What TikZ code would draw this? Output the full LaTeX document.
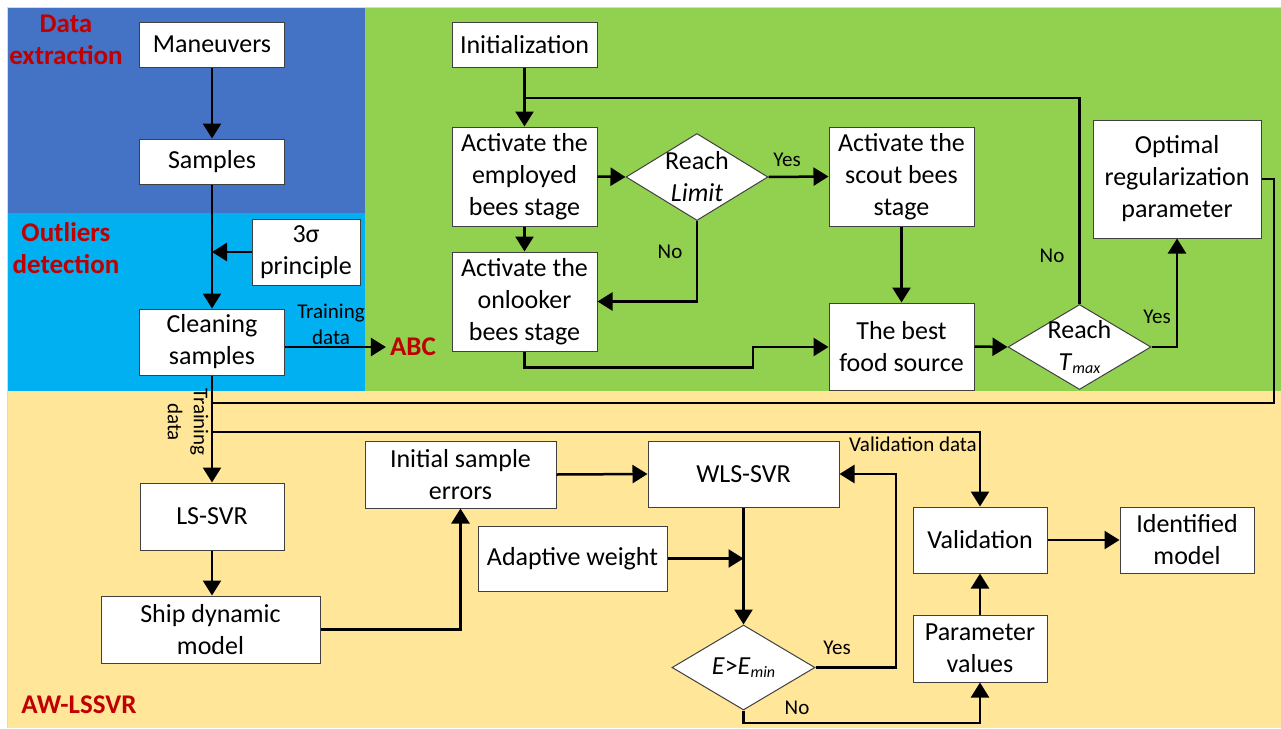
\documentclass[tikz,border=0pt]{standalone}
\usepackage{fontspec}
\setmainfont{Carlito}
\usetikzlibrary{shapes.geometric,arrows.meta,calc}
\definecolor{cblue}{HTML}{4472C4}
\definecolor{clblue}{HTML}{00B0F0}
\definecolor{cgreen}{HTML}{92D050}
\definecolor{cyellow}{HTML}{FFE699}
\definecolor{cred}{HTML}{C00000}
\begin{document}
\begin{tikzpicture}[x=1pt,y=-1pt,
  box/.style={draw=black!75, line width=1pt, fill=white, inner sep=0pt, align=center, font=\fontsize{26}{32}\selectfont},
  dia/.style={diamond, draw=black!75, line width=1pt, fill=white, inner sep=0pt},
  dtext/.style={align=center, font=\fontsize{26}{32}\selectfont},
  ttl/.style={align=center, text=cred, font=\bfseries\fontsize{27}{32}\selectfont},
  lbl/.style={font=\fontsize{21}{26}\selectfont, inner sep=1pt},
  ln/.style={line width=2.5pt},
  arr/.style={line width=2.5pt, -{Triangle[length=15pt,width=18pt]}}
]
\useasboundingbox (0,0) rectangle (1281,728);
\fill[white] (0,0) rectangle (1281,728);
% regions
\fill[cyellow] (7,391) rectangle (1281,728);
\fill[cblue] (7,7) rectangle (365,213);
\fill[clblue] (7,213) rectangle (365,391);
\fill[cgreen] (365,7) rectangle (1281,391);
\draw[black!15, line width=1pt] (7,728) -- (7,7) -- (1281,7);

% titles
\node[ttl] (t1) at (66,40) {Data\\extraction};
\node[ttl] (t2) at (66,248) {Outliers\\detection};
\node[ttl, inner sep=4pt] (abc) at (413,347) {ABC};
\node[ttl] (t4) at (79,705) {AW-LSSVR};

% left column
\node[box, minimum width=145, minimum height=45] (man) at (212,44.5) {Maneuvers};
\node[box, minimum width=145, minimum height=45] (sam) at (212,161.5) {Samples};
\node[box, minimum width=108, minimum height=66] (sig) at (306,252) {3σ\\principle};
\node[box, minimum width=145, minimum height=66] (cle) at (212,342) {Cleaning\\samples};

% ABC
\node[box, minimum width=145, minimum height=45] (ini) at (524.5,44.5) {Initialization};
\node[box, minimum width=145, minimum height=99] (emp) at (524.5,176.5) {Activate the\\employed\\bees stage};
\node[dia, minimum width=142, minimum height=87] (lim) at (697,177) {};
\node[dtext] at (lim) {Reach\\\textit{Limit}};
\node[box, minimum width=145, minimum height=99] (onl) at (524.5,301.5) {Activate the\\onlooker\\bees stage};
\node[box, minimum width=145, minimum height=99] (sco) at (901.5,176.5) {Activate the\\scout bees\\stage};
\node[box, minimum width=145, minimum height=87] (best) at (901.5,346.5) {The best\\food source};
\node[dia, minimum width=143, minimum height=85] (tmax) at (1079.5,347) {};
\node[dtext] at (tmax) {Reach\\\textit{T}\raisebox{-3pt}{\fontsize{16}{16}\selectfont\textit{max}}};
\node[box, minimum width=168, minimum height=118] (opt) at (1177,179) {Optimal\\regularization\\parameter};

% AW-LSSVR
\node[box, minimum width=144, minimum height=67] (ls) at (212,516.5) {LS-SVR};
\node[box, minimum width=219, minimum height=67] (ship) at (210.5,629.5) {Ship dynamic\\model};
\node[box, minimum width=191, minimum height=67] (ise) at (460.5,474.5) {Initial sample\\errors};
\node[box, minimum width=189, minimum height=65] (aw) at (572.5,558.5) {Adaptive weight};
\node[box, minimum width=191, minimum height=66] (wls) at (743.5,474) {WLS-SVR};
\node[dia, minimum width=143, minimum height=85] (emin) at (743.5,667.5) {};
\node[dtext] at (emin) {\textit{E}>\textit{E}\raisebox{-3pt}{\fontsize{16}{16}\selectfont\textit{min}}};
\node[box, minimum width=134, minimum height=66] (val) at (980,540) {Validation};
\node[box, minimum width=134, minimum height=66] (idm) at (1187,540) {Identified\\model};
\node[box, minimum width=134, minimum height=67] (par) at (980,648.5) {Parameter\\values};

% coordinates
\coordinate (j1) at (212,403);
\coordinate (j2) at (212,432);
\coordinate (top) at (524.5,98);

% connectors: left
\draw[arr] (man) -- (sam);
\draw[arr] (sam) -- (cle);
\draw[arr] (sig.west) -- (sam.south |- sig.west);
\draw[arr] (cle.east |- abc.west) -- (abc.west);
\node[lbl, align=center] (td1) at (331,324) {Training\\data};

% ABC connectors
\draw[arr] (ini) -- (emp);
\draw[arr] (emp.east) -- (lim.west);
\draw[arr] (lim.east) -- (sco.west);
\node[lbl] at (787,160) {Yes};
\draw[arr] (lim.south) |- (onl.east);
\node[lbl] at (670,252) {No};
\draw[arr] (emp) -- (onl);
\draw[arr] (onl.south) -- ++(0,16) -| (753,347) -- (best.west |- 753,347);
\draw[arr] (sco) -- (best);
\draw[arr] (best.east) -- (tmax.west);
\draw[ln] (tmax.north) |- (top);
\node[lbl] at (1052,256) {No};
\draw[arr] (tmax.east) -| (opt.south);
\node[lbl] at (1157,317) {Yes};
\draw[ln] (opt.east) -| (1274,403) -- (j1);

% AW-LSSVR connectors
\draw[arr] (cle.south) -- (ls.north);
\node[lbl, rotate=-90, align=center] at (188,422) {Training\\data};
\draw[arr] (j2) -| (val.north);
\node[lbl] at (913,444) {Validation data};
\draw[arr] (ls.south) -- (ls.south |- ship.north);
\draw[arr] (ship.east) -| (ise.south);
\draw[arr] (ise.east) -- (wls.west);
\draw[arr] (wls.south) -- (emin.north);
\draw[arr] (aw.east) -- (wls.south |- aw.east);
\draw[arr] (emin.east) -- (896,667.5) |- (wls.east);
\node[lbl] at (837,648) {Yes};
\draw[arr] (emin.south) -- (743.5,723) -| (par.south);
\node[lbl] at (797,708) {No};
\draw[arr] (par) -- (val);
\draw[arr] (val) -- (idm);
\end{tikzpicture}
\end{document}
